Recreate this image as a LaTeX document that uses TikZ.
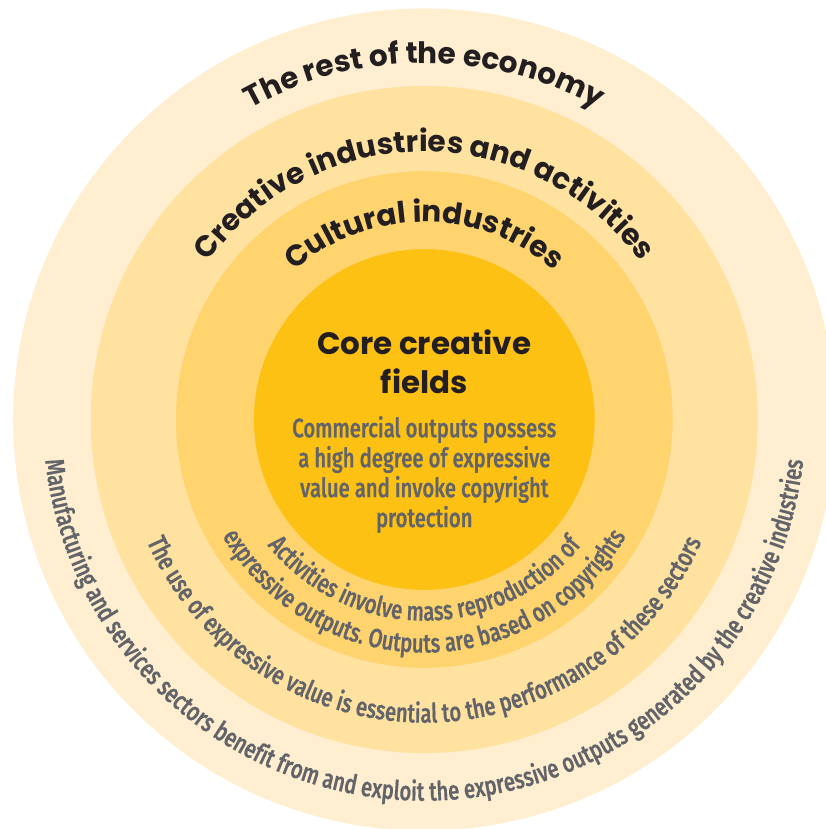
\documentclass[tikz,border=0pt]{standalone}
\usepackage{fontspec}
\usetikzlibrary{decorations.text,positioning}
\newfontfamily\headfont{Poppins}
\newfontfamily\notefont{Fira Sans Medium}[FakeStretch=0.76, FakeBold=0.4]
\definecolor{ringouter}{HTML}{FFEED0}
\definecolor{ringcreative}{HTML}{FFE1A0}
\definecolor{ringcultural}{HTML}{FFD36E}
\definecolor{ringcore}{HTML}{FDC114}
\definecolor{inkdark}{HTML}{231F20}
\definecolor{inkgrey}{HTML}{626469}

\begin{document}
\begin{tikzpicture}[
    ringtop/.style={decorate, decoration={text along path, text align=center,
        text color=inkdark, text={|\headfont\bfseries\fontsize{21}{25}\selectfont|#1}}},
    ringnote/.style={decorate, decoration={text along path, text align=center,
        text color=inkgrey, text={|\notefont\fontsize{19}{22}\selectfont|#1}}}]
    \clip (-10.61,-10.24) rectangle (10.04,10.49);
    \fill[ringouter] (0,0) circle (10.28);
    \fill[ringcreative] (0,0) circle (8.34);
    \fill[ringcultural] (0,0) circle (6.21);
    \fill[ringcore] (0,0) circle (4.26);

    % ring titles
    \path[ringtop={The rest of the economy}] (180:8.91) arc[start angle=180, end angle=0, radius=8.91];
    \path[ringtop={Creative industries and activities}] (180:6.69) arc[start angle=180, end angle=0, radius=6.69];
    \path[ringtop={Cultural industries}] (180:4.94) arc[start angle=180, end angle=0, radius=4.94];

    % ring notes
    \path[ringnote={Activities involve mass reproduction of}] (180:5.03) arc[start angle=180, end angle=360, radius=5.03];
    \path[ringnote={expressive outputs. Outputs are based on copyrights}] (175:5.83) arc[start angle=175, end angle=365, radius=5.83];
    \path[ringnote={The use of expressive value is essential to the performance of these sectors}] (170:7.58) arc[start angle=170, end angle=370, radius=7.58];
    \path[ringnote={Manufacturing and services sectors benefit from and exploit the expressive outputs generated by the creative industries}] (165:9.53) arc[start angle=165, end angle=375, radius=9.53];

    \node[font=\headfont\bfseries\fontsize{22}{27.7}\selectfont, text=inkdark,
        align=center, anchor=base] (coretitle) at (0,0.66) {Core creative\\fields};
    \node[font=\notefont\fontsize{19}{21.3}\selectfont, text=inkgrey,
        align=center, anchor=base] (coretext) at (0,-2.69)
        {Commercial outputs possess\\a high degree of expressive\\value and invoke copyright\\protection};
\end{tikzpicture}
\end{document}
